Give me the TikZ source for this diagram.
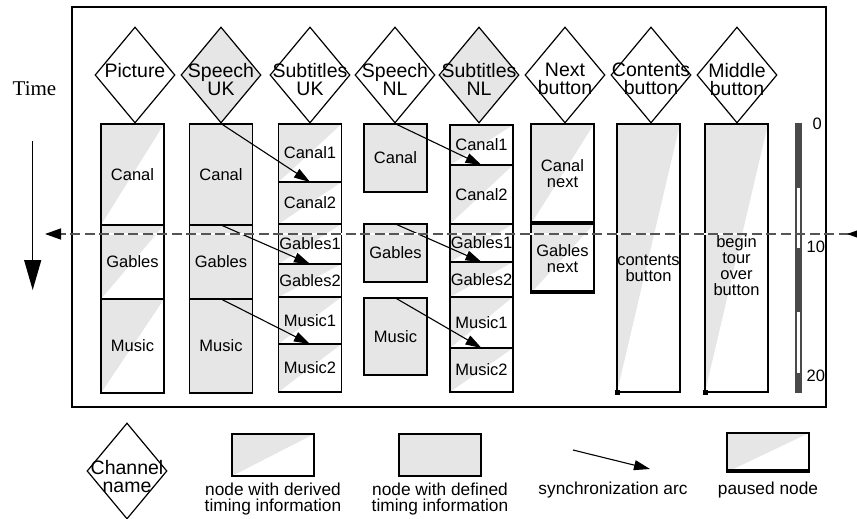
\documentclass[tikz,border=0pt]{standalone}
\usepackage{fontspec}
\setmainfont{Liberation Sans}
\newfontfamily\timefont{Liberation Serif}
\usetikzlibrary{arrows.meta, positioning, shapes.geometric}
\definecolor{lightfill}{RGB}{230,230,230}
\definecolor{barcol}{RGB}{74,74,74}
\definecolor{nowline}{RGB}{85,85,85}

\begin{document}
\begin{tikzpicture}[
        x=1pt, y=-1pt,
        channel/.style={diamond, draw, line width=1.2pt, inner sep=0pt,
                        minimum width=80pt, minimum height=96pt},
        chantext/.style={anchor=north, inner sep=0pt, align=center,
                         font=\fontsize{19.5}{18}\selectfont},
        seg/.style={rectangle, draw, line width=1.2pt, inner sep=0pt, outer sep=0pt,
                    minimum width=63pt, minimum height=#1,
                    align=center, font=\fontsize{16.5}{16}\selectfont},
        boxtext/.style={inner sep=0pt, align=center, font=\fontsize{16.5}{16}\selectfont},
        derived/.style={seg=#1, fill=white,
                        path picture={\fill[lightfill] (path picture bounding box.south west)
                            -- (path picture bounding box.north west)
                            -- (path picture bounding box.north east) -- cycle;}},
        defined/.style={seg=#1, fill=lightfill},
        paused/.style={seg=#1, fill=white,
                       path picture={\fill[lightfill] (path picture bounding box.south west)
                            -- (path picture bounding box.north west)
                            -- (path picture bounding box.north east) -- cycle;
                         \draw[line width=6pt] (path picture bounding box.south west)
                            -- (path picture bounding box.south east);}},
        sync/.style={-{Triangle[length=16pt, width=10pt]}, line width=1.1pt},
        caption/.style={inner sep=0pt, align=center, font=\fontsize{17.3}{16}\selectfont},
        scalenum/.style={anchor=west, inner sep=0pt, font=\fontsize{16.5}{16}\selectfont},
    ]
    \useasboundingbox (0,0) rectangle (857,519);

    % outer frame
    \node[draw, line width=1.3pt, minimum width=754pt, minimum height=400pt] (frame) at (449,207) {};

    % Picture
    \node[channel] (picture) at (135,75) {};
    \node[chantext] (picturet) at (135,63) {Picture};
    \node[derived=101pt, anchor=north] (pcanal) at (132.5,124) {Canal};
    \node[derived=74pt, below=0pt of pcanal] (pgables) {Gables};
    \node[derived=94pt, below=0pt of pgables] (pmusic) {Music};

    % Speech UK
    \node[channel, fill=lightfill] (speechuk) at (221,75) {};
    \node[chantext] (speechukt) at (221,63) {Speech\\UK};
    \node[defined=101pt, anchor=north] (sukcanal) at (221,124) {Canal};
    \node[defined=74pt, below=0pt of sukcanal] (sukgables) {Gables};
    \node[defined=94pt, below=0pt of sukgables] (sukmusic) {Music};

    % Subtitles UK
    \node[channel] (subuk) at (310,75) {};
    \node[chantext] (subukt) at (310,63) {Subtitles\\UK};
    \node[derived=58pt, anchor=north] (tukcanal1) at (310,124) {Canal1};
    \node[derived=42pt, below=0pt of tukcanal1] (tukcanal2) {Canal2};
    \node[derived=40pt, below=0pt of tukcanal2] (tukgables1) {Gables1};
    \node[derived=33pt, below=0pt of tukgables1] (tukgables2) {Gables2};
    \node[derived=47pt, below=0pt of tukgables2] (tukmusic1) {Music1};
    \node[derived=48pt, below=0pt of tukmusic1] (tukmusic2) {Music2};

    % Speech NL
    \node[channel] (speechnl) at (395,75) {};
    \node[chantext] (speechnlt) at (395,63) {Speech\\NL};
    \node[defined=68pt, anchor=north] (snlcanal) at (395.5,124) {Canal};
    \node[defined=58pt, below=32pt of snlcanal] (snlgables) {Gables};
    \node[defined=77pt, below=16pt of snlgables] (snlmusic) {Music};

    % Subtitles NL
    \node[channel, fill=lightfill] (subnl) at (479,75) {};
    \node[chantext] (subnlt) at (479,63) {Subtitles\\NL};
    \node[derived=40pt, anchor=north] (tnlcanal1) at (481.5,125) {Canal1};
    \node[derived=59pt, below=0pt of tnlcanal1] (tnlcanal2) {Canal2};
    \node[derived=38pt, below=0pt of tnlcanal2] (tnlgables1) {Gables1};
    \node[derived=35pt, below=0pt of tnlgables1] (tnlgables2) {Gables2};
    \node[derived=51pt, below=0pt of tnlgables2] (tnlmusic1) {Music1};
    \node[derived=44pt, below=0pt of tnlmusic1] (tnlmusic2) {Music2};

    % Next button
    \node[channel] (nextbtn) at (565,75) {};
    \node[chantext] (nextbtnt) at (565,63) {Next\\button};
    \node[paused=100pt, anchor=north] (canalnext) at (562.5,124) {Canal\\next};
    \node[paused=69pt, below=0pt of canalnext] (gablesnext) {Gables\\next};

    % Contents button
    \node[channel] (contbtn) at (651,75) {};
    \node[chantext] (contbtnt) at (651,63) {Contents\\button};
    \node[derived=268pt, anchor=north] (contents) at (648.5,124) {};
    \node[boxtext] (contentst) at (648.5,268) {contents\\button};
    \fill ([xshift=-2.5pt, yshift=-2.5pt]contents.south west) rectangle ([xshift=2.5pt, yshift=2.5pt]contents.south west);

    % Middle button
    \node[channel] (midbtn) at (737,75) {};
    \node[chantext] (midbtnt) at (737,63) {Middle\\button};
    \node[derived=268pt, anchor=north] (overbtn) at (736.5,124) {};
    \node[boxtext] (overbtnt) at (736.5,266) {begin\\tour\\over\\button};
    \fill ([xshift=-2.5pt, yshift=-2.5pt]overbtn.south west) rectangle ([xshift=2.5pt, yshift=2.5pt]overbtn.south west);

    % synchronization arcs
    \draw[sync] (speechuk.south) -- (tukcanal1.south);
    \draw[sync] (sukcanal.south) -- (tukgables1.south);
    \draw[sync] (sukgables.south) -- (tukmusic1.south);
    \draw[sync] (speechnl.south) -- (tnlcanal1.south);
    \draw[sync] (snlgables.north) -- (tnlgables1.south);
    \draw[sync] (snlmusic.north) -- (tnlmusic1.south);

    % time scale
    \fill[barcol] (795,123) rectangle (802,393);
    \fill[white] (796.8,188) rectangle (800.2,248);
    \fill[white] (796.8,312) rectangle (800.2,373);
    \node[scalenum] (t0) at (812.5,124) {0};
    \node[scalenum] (t10) at (806.5,247) {10};
    \node[scalenum] (t20) at (806.5,376) {20};

    % time axis
    \node[font=\timefont\fontsize{21}{21}\selectfont, inner sep=0pt] (timet) at (34.5,89) {Time};
    \coordinate (timetop) at (32.7,141);
    \coordinate (timebot) at (32.7,290);
    \draw[line width=1.3pt, -{Triangle[length=30pt, width=17pt]}] (timetop) -- (timebot);

    % current time
    \coordinate (nowright) at (863,234);
    \coordinate (nowleft) at (45,234);
    \coordinate (nowmark) at (847,234);
    \draw[white, line width=1.6pt, shorten <=1pt, shorten >=1pt] (frame.west |- nowleft) -- (frame.east |- nowleft);
    \draw[nowline, line width=1.3pt, dash pattern=on 10pt off 4.5pt,
          -{Triangle[length=16pt, width=11pt, color=black]}] (nowright) -- (nowleft);
    \draw[line width=1.3pt, -{Triangle[length=16pt, width=11pt]}] (nowright) -- (nowmark);

    % legend
    \node[channel] (legchan) at (127,471) {};
    \node[chantext] (legchant) at (127,460) {Channel\\name};
    \node[derived=42pt, minimum width=82pt] (legderived) at (273,455) {};
    \node[caption, below=7pt of legderived] (legderivedt) {node with derived\\timing information};
    \node[defined=42pt, minimum width=82pt] (legdefined) at (440,455) {};
    \node[caption, below=7pt of legdefined] (legdefinedt) {node with defined\\timing information};
    \coordinate (legsyncA) at (573,450);
    \coordinate (legsyncB) at (650,469);
    \draw[sync] (legsyncA) -- (legsyncB);
    \node[caption, anchor=north] (legsynct) at (613,482) {synchronization arc};
    \node[paused=39pt, minimum width=82pt] (legpaused) at (768,452.5) {};
    \node[caption, anchor=north] (legpausedt) at (768,482) {paused node};
\end{tikzpicture}
\end{document}
